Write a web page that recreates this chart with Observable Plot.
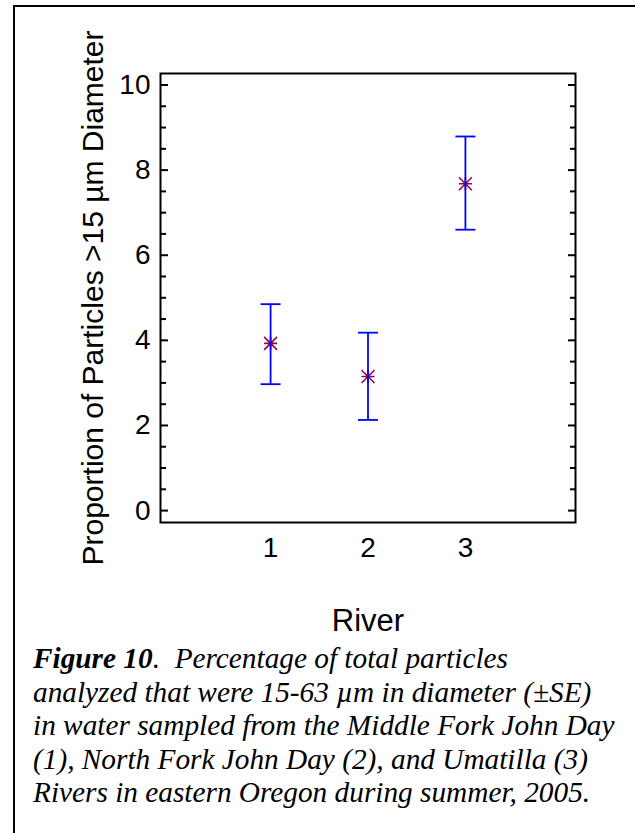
<!DOCTYPE html>
<html>
<head>
<meta charset="utf-8">
<script src="https://cdn.jsdelivr.net/npm/d3@7"></script>
<script src="https://cdn.jsdelivr.net/npm/@observablehq/plot@0.6"></script>
<style>
  html, body { margin: 0; padding: 0; background: #fff; overflow: hidden; width: 635px; height: 833px; }
  #border { position: absolute; left: 13px; top: 5px; width: 800px; height: 1000px; border-left: 2px solid #000; border-top: 2px solid #000; }
  #chart { position: absolute; left: 0; top: 0; }
  #caption { position: absolute; left: 33px; top: 642px; width: 600px; font-family: "Liberation Serif", "Times New Roman", serif; font-style: italic; font-size: 29.3px; line-height: 33.5px; color: #000; white-space: nowrap; }
  #caption b { font-weight: bold; }
</style>
</head>
<body>
<div id="border"></div>
<div id="chart"></div>
<div id="caption"><b>Figure 10</b>.&nbsp; Percentage of total particles<br>analyzed that were 15-63 µm in diameter (±SE)<br>in water sampled from the Middle Fork John Day<br>(1), North Fork John Day (2), and Umatilla (3)<br>Rivers in eastern Oregon during summer, 2005.</div>
<script>
// Data
const rivers = [1, 2, 3];
const means  = [3.93, 3.15, 7.68];
const lower  = [2.97, 2.13, 6.60];
const upper  = [4.85, 4.18, 8.79];
const xTicks = [1, 2, 3];
const yMajorTicks = [0, 2, 4, 6, 8, 10];
const yMinorTicks = [0.5, 1, 1.5, 2.5, 3, 3.5, 4.5, 5, 5.5, 6.5, 7, 7.5, 8.5, 9, 9.5];
const xLabel = "River";
const yLabel = "Proportion of Particles >15 µm Diameter";

const rows = rivers.map((r, i) => ({river: r, mean: means[i], lo: lower[i], hi: upper[i]}));

const asterisk8 = {
  draw(ctx, size) {
    const r = Math.sqrt(size / Math.PI);
    ctx.moveTo(-r, 0); ctx.lineTo(r, 0);
    ctx.moveTo(0, -r); ctx.lineTo(0, r);
    ctx.moveTo(-r, -r); ctx.lineTo(r, r);
    ctx.moveTo(-r, r); ctx.lineTo(r, -r);
  }
};
const capSymbol = {
  draw(ctx, size) {
    const r = Math.sqrt(size / Math.PI);
    ctx.moveTo(-r, 0); ctx.lineTo(r, 0);
  }
};

const font = "'Liberation Sans', Arial, sans-serif";
const blank = () => "";

const chart = Plot.plot({
  width: 635,
  height: 645,
  marginLeft: 160,
  marginRight: 60,
  marginTop: 73,
  marginBottom: 123,
  style: {fontFamily: font, background: "transparent", color: "#000", overflow: "visible"},
  x: {domain: [-0.13, 4.13]},
  y: {domain: [-0.28, 10.27]},
  marks: [
    Plot.frame({stroke: "#000", strokeWidth: 2}),
    // inward ticks, left and right
    Plot.axisY(yMajorTicks, {anchor: "left", tickSize: -8, strokeWidth: 2, tickFormat: blank, label: null}),
    Plot.axisY(yMinorTicks, {anchor: "left", tickSize: -6, strokeWidth: 2, tickFormat: blank, label: null}),
    Plot.axisY(yMajorTicks, {anchor: "right", tickSize: -8, strokeWidth: 2, tickFormat: blank, label: null}),
    Plot.axisY(yMinorTicks, {anchor: "right", tickSize: -6, strokeWidth: 2, tickFormat: blank, label: null}),
    // tick labels
    Plot.axisY(yMajorTicks, {anchor: "left", tickSize: 0, tickPadding: 10, fontSize: 28, label: null}),
    Plot.axisX(xTicks, {anchor: "bottom", tickSize: 0, tickPadding: 15, fontSize: 28, label: null}),
    // axis titles
    Plot.axisY(yMajorTicks, {anchor: "left", tickSize: 0, tickFormat: blank, fontSize: 30,
      label: yLabel, labelAnchor: "center", labelOffset: 79, labelArrow: "none"}),
    Plot.axisX(xTicks, {anchor: "bottom", tickSize: 0, tickFormat: blank, fontSize: 31,
      label: xLabel, labelAnchor: "center", labelOffset: 108, labelArrow: "none"}),
    // means
    Plot.dot(rows, {x: "river", y: "mean", symbol: asterisk8, r: 6.5, stroke: "#880a48", strokeWidth: 1.6, fill: "none"}),
    // error bars
    Plot.ruleX(rows, {x: "river", y1: "lo", y2: "hi", stroke: "#0000ff", strokeWidth: 1.8}),
    Plot.dot(rows, {x: "river", y: "lo", symbol: capSymbol, r: 10, stroke: "#0000ff", strokeWidth: 1.8, fill: "none"}),
    Plot.dot(rows, {x: "river", y: "hi", symbol: capSymbol, r: 10, stroke: "#0000ff", strokeWidth: 1.8, fill: "none"})
  ]
});
document.getElementById("chart").appendChild(chart);
</script>
</body>
</html>
